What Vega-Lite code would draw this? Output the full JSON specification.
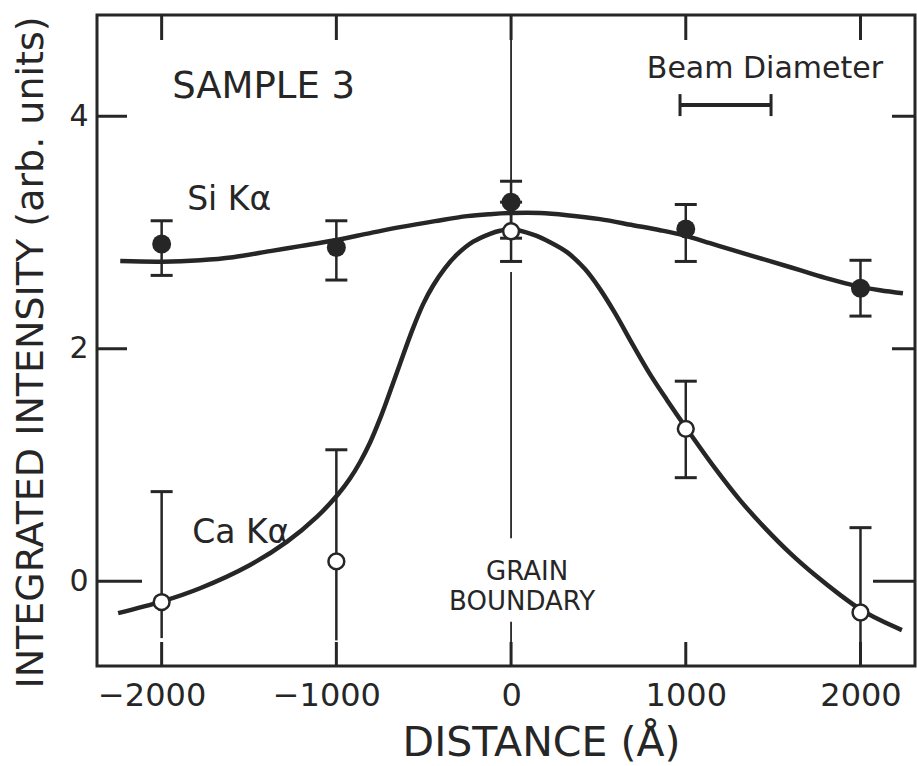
{
  "$schema": "https://vega.github.io/schema/vega-lite/v6.json",
  "width": 818,
  "height": 651,
  "autosize": {"type": "none"},
  "padding": {"left": 97, "top": 15, "right": 2, "bottom": 100},
  "background": "white",
  "config": {
    "view": {"stroke": "#262626", "strokeWidth": 3},
    "font": "DejaVu Sans",
    "text": {"font": "DejaVu Sans", "color": "#262626"}
  },
  "datasets": {
    "pts": [
      {"series": "Si", "x": -2000, "y": 2.90, "lo": 2.63, "hi": 3.10},
      {"series": "Si", "x": -1000, "y": 2.87, "lo": 2.59, "hi": 3.10},
      {"series": "Si", "x": 0, "y": 3.26, "lo": 2.95, "hi": 3.44},
      {"series": "Si", "x": 1000, "y": 3.03, "lo": 2.75, "hi": 3.24},
      {"series": "Si", "x": 2000, "y": 2.52, "lo": 2.28, "hi": 2.76},
      {"series": "Ca", "x": -2000, "y": -0.18, "lo": -0.49, "hi": 0.77},
      {"series": "Ca", "x": -1000, "y": 0.17, "lo": -0.51, "hi": 1.13},
      {"series": "Ca", "x": 0, "y": 3.01, "lo": 2.75, "hi": 3.26},
      {"series": "Ca", "x": 1000, "y": 1.31, "lo": 0.89, "hi": 1.72},
      {"series": "Ca", "x": 2000, "y": -0.27, "lo": -0.55, "hi": 0.46}
    ],
    "curves": [
      {"series": "Si", "x": -2237, "y": 2.753},
      {"series": "Si", "x": -1997, "y": 2.748},
      {"series": "Si", "x": -1780, "y": 2.761},
      {"series": "Si", "x": -1591, "y": 2.787},
      {"series": "Si", "x": -1379, "y": 2.839},
      {"series": "Si", "x": -1207, "y": 2.882},
      {"series": "Si", "x": -1007, "y": 2.933},
      {"series": "Si", "x": -807, "y": 2.994},
      {"series": "Si", "x": -635, "y": 3.045},
      {"series": "Si", "x": -435, "y": 3.097},
      {"series": "Si", "x": -252, "y": 3.140},
      {"series": "Si", "x": -120, "y": 3.157},
      {"series": "Si", "x": 0, "y": 3.166},
      {"series": "Si", "x": 166, "y": 3.166},
      {"series": "Si", "x": 320, "y": 3.148},
      {"series": "Si", "x": 509, "y": 3.114},
      {"series": "Si", "x": 698, "y": 3.062},
      {"series": "Si", "x": 853, "y": 3.019},
      {"series": "Si", "x": 984, "y": 2.976},
      {"series": "Si", "x": 1139, "y": 2.907},
      {"series": "Si", "x": 1270, "y": 2.847},
      {"series": "Si", "x": 1482, "y": 2.753},
      {"series": "Si", "x": 1654, "y": 2.675},
      {"series": "Si", "x": 1825, "y": 2.598},
      {"series": "Si", "x": 1980, "y": 2.538},
      {"series": "Si", "x": 2112, "y": 2.503},
      {"series": "Si", "x": 2243, "y": 2.477},
      {"series": "Ca", "x": -2249, "y": -0.275},
      {"series": "Ca", "x": -1997, "y": -0.174},
      {"series": "Ca", "x": -1780, "y": -0.061},
      {"series": "Ca", "x": -1494, "y": 0.139},
      {"series": "Ca", "x": -1282, "y": 0.340},
      {"series": "Ca", "x": -1110, "y": 0.555},
      {"series": "Ca", "x": -990, "y": 0.747},
      {"series": "Ca", "x": -921, "y": 0.885},
      {"series": "Ca", "x": -864, "y": 1.025},
      {"series": "Ca", "x": -807, "y": 1.193},
      {"series": "Ca", "x": -750, "y": 1.398},
      {"series": "Ca", "x": -710, "y": 1.558},
      {"series": "Ca", "x": -635, "y": 1.873},
      {"series": "Ca", "x": -561, "y": 2.176},
      {"series": "Ca", "x": -504, "y": 2.381},
      {"series": "Ca", "x": -446, "y": 2.543},
      {"series": "Ca", "x": -378, "y": 2.693},
      {"series": "Ca", "x": -309, "y": 2.810},
      {"series": "Ca", "x": -217, "y": 2.920},
      {"series": "Ca", "x": -120, "y": 2.988},
      {"series": "Ca", "x": -63, "y": 3.014},
      {"series": "Ca", "x": 0, "y": 3.027},
      {"series": "Ca", "x": 126, "y": 2.981},
      {"series": "Ca", "x": 223, "y": 2.916},
      {"series": "Ca", "x": 320, "y": 2.830},
      {"series": "Ca", "x": 423, "y": 2.684},
      {"series": "Ca", "x": 509, "y": 2.512},
      {"series": "Ca", "x": 595, "y": 2.305},
      {"series": "Ca", "x": 698, "y": 2.030},
      {"series": "Ca", "x": 795, "y": 1.781},
      {"series": "Ca", "x": 893, "y": 1.557},
      {"series": "Ca", "x": 1007, "y": 1.308},
      {"series": "Ca", "x": 1167, "y": 0.972},
      {"series": "Ca", "x": 1310, "y": 0.697},
      {"series": "Ca", "x": 1454, "y": 0.456},
      {"series": "Ca", "x": 1597, "y": 0.241},
      {"series": "Ca", "x": 1740, "y": 0.052},
      {"series": "Ca", "x": 1883, "y": -0.118},
      {"series": "Ca", "x": 1997, "y": -0.240},
      {"series": "Ca", "x": 2112, "y": -0.335},
      {"series": "Ca", "x": 2237, "y": -0.421}
    ],
    "gb": [
      {"x": 0, "y1": 4.87, "y2": 2.75},
      {"x": 0, "y1": 2.66, "y2": 0.37},
      {"x": 0, "y1": -0.35, "y2": -0.73}
    ],
    "xt": [{"v": -2000}, {"v": -1000}, {"v": 0}, {"v": 1000}, {"v": 2000}],
    "yt": [{"v": 0}, {"v": 2}, {"v": 4}]
  },
  "layer": [
    {
      "data": {"name": "curves"},
      "mark": {"type": "line", "interpolate": "catmull-rom", "strokeWidth": 4.5, "color": "#262626"},
      "encoding": {
        "x": {
          "field": "x", "type": "quantitative",
          "scale": {"domain": [-2370, 2312], "nice": false, "zero": false},
          "axis": {
            "values": [-2000, -1000, 0, 1000, 2000], "format": "d",
            "ticks": false, "domain": false, "grid": false,
            "labelFont": "DejaVu Sans", "labelFontSize": 32, "labelColor": "#262626",
            "labelPadding": 14, "labelFlush": false, "labelOverlap": false,
            "labelOffset": {"condition": {"test": "datum.value < 0", "value": -10}, "value": 0},
            "title": "DISTANCE (Å)", "titleFont": "DejaVu Sans", "titleFontSize": 41,
            "titleFontWeight": "normal", "titleColor": "#262626",
            "titleX": 444, "titleY": 89, "titleAlign": "center", "titleBaseline": "alphabetic"
          }
        },
        "y": {
          "field": "y", "type": "quantitative",
          "scale": {"domain": [-0.73, 4.87], "nice": false, "zero": false},
          "axis": {
            "values": [0, 2, 4], "format": "d",
            "ticks": false, "domain": false, "grid": false,
            "labelFont": "DejaVu Sans", "labelFontSize": 30, "labelColor": "#262626",
            "labelPadding": 9, "labelFlush": false, "labelOverlap": false,
            "title": "INTEGRATED INTENSITY (arb. units)", "titleFont": "DejaVu Sans",
            "titleFontSize": 38, "titleFontWeight": "normal", "titleColor": "#262626",
            "titleX": -55, "titleY": 337, "titleAngle": -90, "titleAlign": "center",
            "titleBaseline": "alphabetic"
          }
        },
        "detail": {"field": "series", "type": "nominal"}
      }
    },
    {
      "data": {"name": "gb"},
      "mark": {"type": "rule", "strokeWidth": 1.8, "color": "#262626"},
      "encoding": {
        "x": {"field": "x", "type": "quantitative"},
        "y": {"field": "y1", "type": "quantitative"},
        "y2": {"field": "y2"}
      }
    },
    {
      "data": {"name": "pts"},
      "mark": {"type": "rule", "strokeWidth": 2.5, "color": "#262626"},
      "encoding": {
        "x": {"field": "x", "type": "quantitative"},
        "y": {"field": "lo", "type": "quantitative"},
        "y2": {"field": "hi"}
      }
    },
    {
      "data": {"name": "pts"},
      "mark": {"type": "tick", "orient": "horizontal", "size": 22, "thickness": 3, "color": "#262626", "opacity": 1},
      "encoding": {
        "x": {"field": "x", "type": "quantitative"},
        "y": {"field": "hi", "type": "quantitative"}
      }
    },
    {
      "data": {"name": "pts"},
      "transform": [{"filter": "datum.lo > -0.4"}],
      "mark": {"type": "tick", "orient": "horizontal", "size": 22, "thickness": 3, "color": "#262626", "opacity": 1},
      "encoding": {
        "x": {"field": "x", "type": "quantitative"},
        "y": {"field": "lo", "type": "quantitative"}
      }
    },
    {
      "data": {"name": "pts"},
      "transform": [{"filter": "datum.series === 'Ca'"}],
      "mark": {"type": "point", "shape": "circle", "size": 250, "filled": false, "fill": "white", "fillOpacity": 1, "stroke": "#262626", "strokeWidth": 2.5, "opacity": 1},
      "encoding": {
        "x": {"field": "x", "type": "quantitative"},
        "y": {"field": "y", "type": "quantitative"}
      }
    },
    {
      "data": {"name": "pts"},
      "transform": [{"filter": "datum.series === 'Si'"}],
      "mark": {"type": "point", "shape": "circle", "size": 360, "filled": true, "color": "#262626", "opacity": 1},
      "encoding": {
        "x": {"field": "x", "type": "quantitative"},
        "y": {"field": "y", "type": "quantitative"}
      }
    },
    {
      "data": {"values": [{"x1": 967, "x2": 1488, "y": 4.095}]},
      "mark": {"type": "rule", "strokeWidth": 4, "color": "#262626"},
      "encoding": {
        "x": {"field": "x1", "type": "quantitative"},
        "x2": {"field": "x2"},
        "y": {"field": "y", "type": "quantitative"}
      }
    },
    {
      "data": {"values": [{"x": 967, "y": 4.095}, {"x": 1488, "y": 4.095}]},
      "mark": {"type": "tick", "orient": "vertical", "size": 22, "thickness": 3, "color": "#262626", "opacity": 1},
      "encoding": {
        "x": {"field": "x", "type": "quantitative"},
        "y": {"field": "y", "type": "quantitative"}
      }
    },
    {
      "data": {"name": "xt"},
      "mark": {"type": "tick", "orient": "vertical", "size": 48, "thickness": 3, "color": "#262626", "opacity": 1, "clip": true},
      "encoding": {
        "x": {"field": "v", "type": "quantitative"},
        "y": {"datum": -0.73, "type": "quantitative"}
      }
    },
    {
      "data": {"name": "xt"},
      "mark": {"type": "tick", "orient": "vertical", "size": 50, "thickness": 3, "color": "#262626", "opacity": 1, "clip": true},
      "encoding": {
        "x": {"field": "v", "type": "quantitative"},
        "y": {"datum": 4.87, "type": "quantitative"}
      }
    },
    {
      "data": {"name": "yt"},
      "mark": {"type": "tick", "orient": "horizontal", "thickness": 3, "color": "#262626", "opacity": 1, "clip": true},
      "encoding": {
        "x": {"datum": -2370, "type": "quantitative"},
        "y": {"field": "v", "type": "quantitative"},
        "size": {"condition": {"test": "datum.v === 0", "value": 90}, "value": 60}
      }
    },
    {
      "data": {"name": "yt"},
      "mark": {"type": "tick", "orient": "horizontal", "thickness": 3, "color": "#262626", "opacity": 1, "clip": true},
      "encoding": {
        "x": {"datum": 2312, "type": "quantitative"},
        "y": {"field": "v", "type": "quantitative"},
        "size": {"condition": {"test": "datum.v === 0", "value": 84}, "value": 46}
      }
    },
    {
      "data": {"values": [{"label": "SAMPLE 3", "x": -1940, "y": 4.16}]},
      "mark": {"type": "text", "align": "left", "baseline": "alphabetic", "fontSize": 37, "color": "#262626"},
      "encoding": {
        "x": {"field": "x", "type": "quantitative"},
        "y": {"field": "y", "type": "quantitative"},
        "text": {"field": "label"}
      }
    },
    {
      "data": {"values": [{"label": "Si Kα", "x": -1854, "y": 3.19}, {"label": "Ca Kα", "x": -1825, "y": 0.33}]},
      "mark": {"type": "text", "align": "left", "baseline": "alphabetic", "fontSize": 33, "color": "#262626"},
      "encoding": {
        "x": {"field": "x", "type": "quantitative"},
        "y": {"field": "y", "type": "quantitative"},
        "text": {"field": "label"}
      }
    },
    {
      "data": {"values": [{"label": "Beam Diameter", "x": 1453, "y": 4.33}]},
      "mark": {"type": "text", "align": "center", "baseline": "alphabetic", "fontSize": 30, "color": "#262626"},
      "encoding": {
        "x": {"field": "x", "type": "quantitative"},
        "y": {"field": "y", "type": "quantitative"},
        "text": {"field": "label"}
      }
    },
    {
      "data": {"values": [{"label": "GRAIN", "x": 92, "y": 0.01}, {"label": "BOUNDARY", "x": 63, "y": -0.25}]},
      "mark": {"type": "text", "align": "center", "baseline": "alphabetic", "fontSize": 26, "color": "#262626"},
      "encoding": {
        "x": {"field": "x", "type": "quantitative"},
        "y": {"field": "y", "type": "quantitative"},
        "text": {"field": "label"}
      }
    }
  ]
}
